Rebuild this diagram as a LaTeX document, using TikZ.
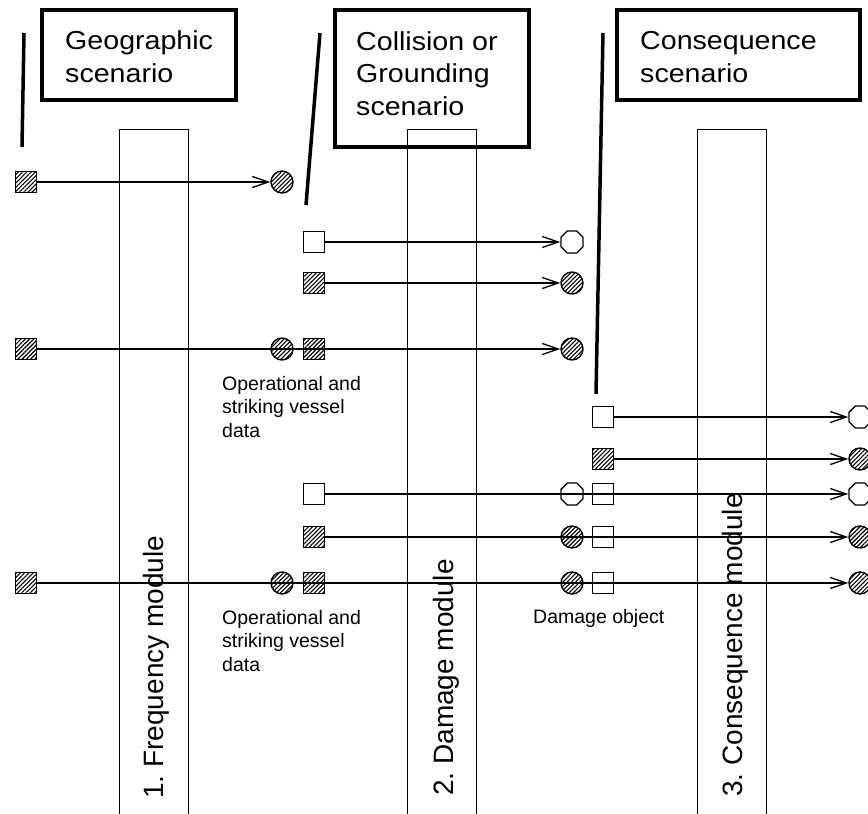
\documentclass[tikz,border=0pt]{standalone}
\usepackage{fontspec}
\setmainfont{Liberation Sans}
\newfontfamily\widesans[FakeStretch=1.1]{Liberation Sans}
\usetikzlibrary{arrows.meta, patterns.meta, shapes.geometric}
\frenchspacing

\begin{document}
\begin{tikzpicture}[x=1pt, y=-1pt,
        scen/.style={draw, line width=3.5pt, anchor=north west, inner sep=0pt, minimum width=194pt},
        scentext/.style={anchor=base west, align=left, inner sep=0pt, font=\widesans\fontsize{26}{32.5}\selectfont},
        modbar/.style={draw, line width=1.3pt, anchor=north west, inner sep=0pt, minimum width=69pt, minimum height=700pt},
        modlabel/.style={rotate=90, anchor=base west, inner sep=0pt, font=\fontsize{28}{34}\selectfont},
        note/.style={anchor=base west, align=left, inner sep=0pt, font=\fontsize{19.5}{23.5}\selectfont},
        tick/.style={line width=3.5pt},
        hatch/.style={pattern={Lines[angle=45, distance=3pt, line width=1.1pt]}},
        sqw/.style={draw, line width=1.3pt, minimum size=21pt, inner sep=0pt},
        sqh/.style={sqw, hatch},
        cih/.style={draw, circle, line width=1.4pt, minimum size=22pt, inner sep=0pt, hatch},
        ocw/.style={draw, regular polygon, regular polygon sides=8, line width=1.3pt, minimum size=24pt, inner sep=0pt},
        conn/.style={line width=1.3pt},
        flow/.style={conn, -{Straight Barb[length=16pt, width=11pt]}}]
        \useasboundingbox (0,0) rectangle (868,814);

        % scenario boxes
        \node[scen, minimum height=90pt]   (geobox) at (40,8)   {};
        \node[scen, minimum height=137pt]  (colbox) at (333,8)  {};
        \node[scen, minimum height=90pt, minimum width=243pt] (cnsbox) at (615,8) {};
        \node[scentext] (geotxt) at (65,82)   {Geographic\\scenario};
        \node[scentext] (coltxt) at (356,115) {Collision or\\Grounding\\scenario};
        \node[scentext] (cnstxt) at (640,82)  {Consequence\\scenario};

        \draw[tick] (24,33) -- (22,147);
        \draw[tick] (320,33) -- (306,205);
        \draw[tick] (603,33) -- (596,394);

        % modules
        \node[modbar] (frqbar) at (119,129) {};
        \node[modbar] (dambar) at (407,129) {};
        \node[modbar] (cnsbar) at (697,129) {};
        \node[modlabel] (frqlbl) at (163,799) {1. Frequency module};
        \node[modlabel] (damlbl) at (453,796) {2. Damage module};
        \node[modlabel] (cnslbl) at (742,797) {3. Consequence module};

        % markers
        \node[sqh] (geo1) at (26,182)  {};
        \node[cih] (frq1) at (282,182) {};

        \node[sqw] (col2) at (314,242) {};
        \node[ocw] (dam2) at (572,242) {};
        \node[sqh] (col3) at (314,283) {};
        \node[cih] (dam3) at (572,283) {};

        \node[sqh] (geo4) at (26,349)  {};
        \node[cih] (frq4) at (282,349) {};
        \node[sqh] (col4) at (314,349) {};
        \node[cih] (dam4) at (572,349) {};

        \node[sqw] (cns5) at (603,417) {};
        \node[ocw] (out5) at (860,417) {};
        \node[sqh] (cns6) at (603,459) {};
        \node[cih] (out6) at (860,459) {};

        \node[sqw] (col7) at (314,494) {};
        \node[ocw] (dam7) at (572,494) {};
        \node[sqw] (cns7) at (603,494) {};
        \node[ocw] (out7) at (860,494) {};

        \node[sqh] (col8) at (314,537) {};
        \node[cih] (dam8) at (572,537) {};
        \node[sqw] (cns8) at (603,537) {};
        \node[cih] (out8) at (860,537) {};

        \node[sqh] (geo9) at (26,583)  {};
        \node[cih] (frq9) at (282,583) {};
        \node[sqh] (col9) at (314,583) {};
        \node[cih] (dam9) at (572,583) {};
        \node[sqw] (cns9) at (603,583) {};
        \node[cih] (out9) at (860,583) {};

        \node[note] (opdat4) at (222,437) {Operational and\\striking vessel\\data};
        \node[note] (opdat9) at (222,671) {Operational and\\striking vessel\\data};
        \node[note] (dmgobj) at (533,623) {Damage object};

        % flows
        \draw[flow] (geo1.east) -- (frq1.west);
        \draw[flow] (col2.east) -- (dam2.west);
        \draw[flow] (col3.east) -- (dam3.west);
        \draw[flow] (geo4.east) -- (frq4.center) -- (col4.center) -- (dam4.west);
        \draw[flow] (cns5.east) -- (out5.west);
        \draw[flow] (cns6.east) -- (out6.west);
        \draw[flow] (col7.east) -- (dam7.center) -- (cns7.center) -- (out7.west);
        \draw[flow] (col8.east) -- (dam8.center) -- (cns8.center) -- (out8.west);
        \draw[flow] (geo9.east) -- (frq9.center) -- (col9.center) -- (dam9.center) -- (cns9.center) -- (out9.west);
    \end{tikzpicture}
\end{document}
